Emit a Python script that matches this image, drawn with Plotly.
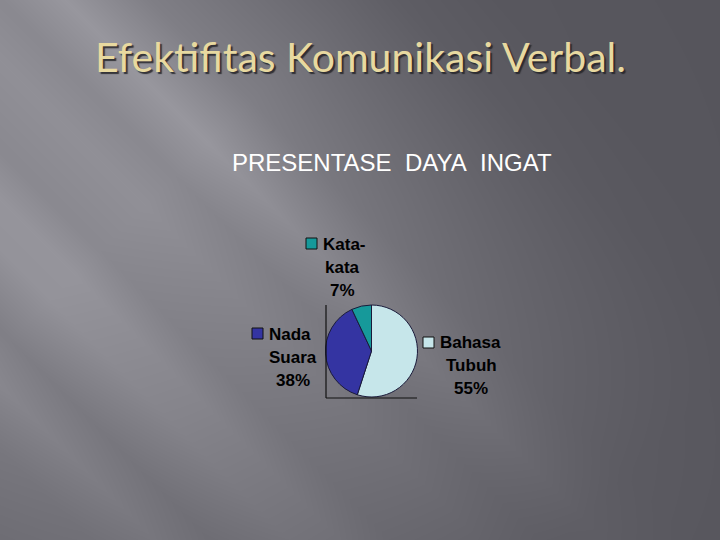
import base64
import struct
import zlib

import numpy as np
import plotly.graph_objects as go

# ---- data ----
categories = ["Bahasa Tubuh", "Nada Suara", "Kata-kata"]
values = [55, 38, 7]
colors = ["#c6e6ea", "#3434a2", "#16999a"]
title_text = "Efektifitas Komunikasi Verbal."
chart_title = "PRESENTASE\u00a0\u00a0DAYA\u00a0\u00a0INGAT"

W, H = 720, 540


def px(x):
    return x / W


def py(y):
    return 1 - y / H


# ---- background picture (slide gradient with diagonal light streaks) ----
def make_background():
    ys, xs = np.mgrid[0:H, 0:W].astype(float)
    u = xs - ys
    w = xs + ys
    fu_pts = [-800, -600, -540, -450, -385, -330, -250, -200, -150, -60, 0, 65, 150, 280, 400, 500, 800]
    fu_val = [110, 112, 116, 124, 138, 128, 148, 150, 138, 145, 138, 152, 128, 111, 95, 89, 86]
    hw_pts = [0, 350, 600, 900, 1100, 1300]
    hw_val = [1.0, 1.0, 0.75, 0.4, 0.15, 0.03]
    dark = 86.0
    b = dark + (np.interp(u, fu_pts, fu_val) - dark) * np.interp(w, hw_pts, hw_val)
    r = np.clip(b, 0, 255)
    g = np.clip(b - 1, 0, 255)
    bl = np.clip(b + 6, 0, 255)
    img = np.stack([r, g, bl], axis=-1).astype(np.uint8)
    raw = b"".join(b"\x00" + img[i].tobytes() for i in range(H))

    def chunk(tag, data):
        c = struct.pack(">I", len(data)) + tag + data
        return c + struct.pack(">I", zlib.crc32(tag + data) & 0xFFFFFFFF)

    png = b"\x89PNG\r\n\x1a\n" + chunk(b"IHDR", struct.pack(">IIBBBBB", W, H, 8, 2, 0, 0, 0)) \
        + chunk(b"IDAT", zlib.compress(raw, 9)) + chunk(b"IEND", b"")
    return "data:image/png;base64," + base64.b64encode(png).decode()


fig = go.Figure()

shapes = []
# plot-area frame lines (left and bottom)
shapes.append(dict(type="line", xref="paper", yref="paper", x0=px(326), x1=px(326),
                   y0=py(305), y1=py(398), line=dict(color="#111111", width=1.2)))
shapes.append(dict(type="line", xref="paper", yref="paper", x0=px(326), x1=px(417),
                   y0=py(398), y1=py(398), line=dict(color="#111111", width=1.2)))

# ---- pie ----
fig.add_trace(go.Pie(
    labels=categories, values=values, sort=False, direction="clockwise", rotation=0,
    marker=dict(colors=colors, line=dict(color="#1a1a3a", width=1)),
    textinfo="none", hoverinfo="label+percent", showlegend=False,
    domain=dict(x=[px(325.5), px(417.5)], y=[py(397), py(305)]),
))

# ---- data labels with legend keys ----
total = sum(values)
label_pos = {  # key square top-left, centre x of text block, first line y
    "Bahasa Tubuh": (423, 337, 471, 342),
    "Nada Suara": (252, 328, 293, 334),
    "Kata-kata": (306, 238, 342, 244),
}
annotations = []
font_lbl = dict(family="Liberation Sans, Arial", size=17, color="#000000")
for cat, val, c in zip(categories, values, colors):
    sx, sy, cx, y0 = label_pos[cat]
    if " " in cat:
        first, rest = cat.split(" ", 1)
    else:
        i = cat.index("-") + 1
        first, rest = cat[:i], cat[i:]
    pct = f"{val / total * 100:.0f}%"
    shapes.append(dict(type="rect", xref="paper", yref="paper", x0=px(sx), x1=px(sx + 11),
                       y0=py(sy + 11), y1=py(sy), fillcolor=c, line=dict(color="#111111", width=1)))
    annotations.append(dict(text=f"<b>{first}</b>", x=px(sx + 15), y=py(y0), xref="paper", yref="paper",
                            xanchor="left", yanchor="middle", showarrow=False, font=font_lbl))
    annotations.append(dict(text=f"<b>{rest}</b>", x=px(cx), y=py(y0 + 23), xref="paper", yref="paper",
                            xanchor="center", yanchor="middle", showarrow=False, font=font_lbl))
    annotations.append(dict(text=f"<b>{pct}</b>", x=px(cx), y=py(y0 + 46), xref="paper", yref="paper",
                            xanchor="center", yanchor="middle", showarrow=False, font=font_lbl))

# ---- titles ----
annotations.append(dict(text=title_text, x=px(360.5), y=py(56), xref="paper", yref="paper",
                        xanchor="center", yanchor="middle", showarrow=False,
                        font=dict(family="Lato", size=41, color="#e8d9a0",
                                  shadow="2px 2px 1px rgba(35,35,40,0.85)")))
annotations.append(dict(text=chart_title, x=px(392.5), y=py(163), xref="paper", yref="paper",
                        xanchor="center", yanchor="middle", showarrow=False,
                        font=dict(family="Liberation Sans, Arial", size=24, color="#ffffff")))

fig.update_layout(
    width=W, height=H, margin=dict(l=0, r=0, t=0, b=0),
    paper_bgcolor="#58575d", plot_bgcolor="rgba(0,0,0,0)",
    shapes=shapes, annotations=annotations,
    images=[dict(source=make_background(), xref="paper", yref="paper", x=0, y=1,
                 sizex=1, sizey=1, xanchor="left", yanchor="top", sizing="stretch", layer="below")],
)

fig.write_html("out.html", config={"displayModeBar": False},
               post_script="document.body.style.margin='0';")
